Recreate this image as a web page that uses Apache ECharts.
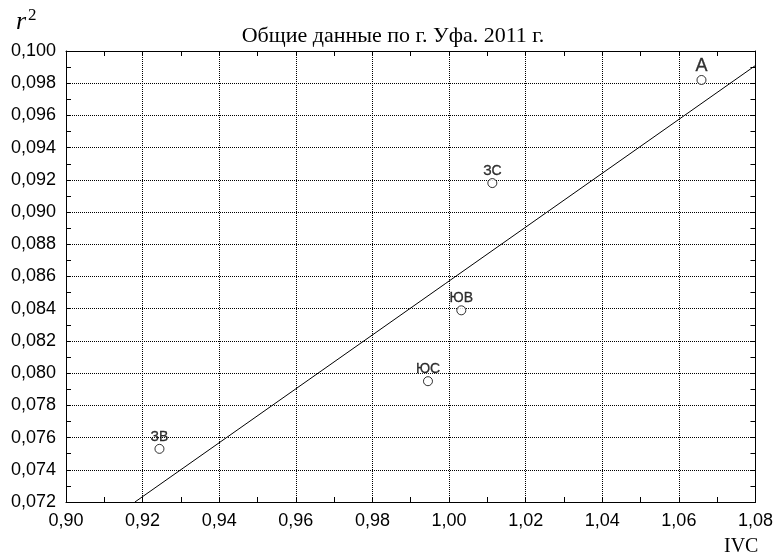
<!DOCTYPE html>
<html>
<head>
<meta charset="utf-8">
<script src="https://cdn.jsdelivr.net/npm/echarts@6/dist/echarts.min.js"></script>
<style>
html, body { margin: 0; padding: 0; background: #fff; }
#chart { width: 776px; height: 557px; }
</style>
</head>
<body>
<div id="chart"></div>
<script>
// точки по районам
const names = ['ЗВ', 'ЮС', 'ЮВ', 'ЗС', 'А']
const ivc = [0.9244, 0.9945, 1.0032, 1.0113, 1.0659]
const r2 = [0.0753, 0.0795, 0.0839, 0.0918, 0.0982]
// линия тренда (концы)
const fitX = [0.918, 1.08]
const fitY = [0.072, 0.0991]

const chart = echarts.init(document.getElementById('chart'))
const black = '#000'
const serif = '"Liberation Serif", "DejaVu Serif", serif'
const sans = '"Liberation Sans", Arial, sans-serif'

const boxAxis = {
  axisLine: { show: true, lineStyle: { color: black, width: 1 } },
  axisTick: { show: true, inside: true, length: 5, lineStyle: { color: black } },
  minorTick: { show: true, splitNumber: 2, length: 5, lineStyle: { color: black } },
  axisLabel: { show: false },
  splitLine: { show: false },
}

const option = {
  backgroundColor: '#fff',
  animation: false,
  title: {
    text: 'Общие данные по г. Уфа. 2011 г.',
    left: 388,
    textAlign: 'center',
    top: 20,
    textStyle: { fontFamily: serif, fontSize: 22, fontWeight: 'normal', color: black },
  },
  graphic: [
    {
      type: 'text', left: 16, top: 9,
      style: { text: 'r', font: 'italic 26px ' + serif, fill: black },
    },
    {
      type: 'text', left: 28, top: 7,
      style: { text: '2', font: '17px ' + serif, fill: black },
    },
    {
      type: 'text', left: 724, top: 537,
      style: { text: 'IVC', font: '20px ' + serif, fill: black },
    },
  ],
  grid: { left: 66, right: 18, top: 51, bottom: 55 },
  xAxis: [
    {
      type: 'value', min: 0.9, max: 1.08, interval: 0.02,
      axisLine: { show: true, lineStyle: { color: black } },
      axisTick: { show: true, inside: true, length: 5, lineStyle: { color: black } },
      minorTick: { show: true, splitNumber: 2, length: 5, lineStyle: { color: black } },
      axisLabel: {
        color: black, fontFamily: sans, fontSize: 18, margin: 10,
        formatter: v => v.toFixed(2).replace('.', ','),
      },
      splitLine: { show: true, lineStyle: { color: black, type: 'dotted', width: 1 } },
    },
    Object.assign({ type: 'value', position: 'top', min: 0.9, max: 1.08, interval: 0.02 }, boxAxis),
  ],
  yAxis: [
    {
      type: 'value', min: 0.072, max: 0.1, interval: 0.002,
      axisLine: { show: true, lineStyle: { color: black } },
      axisTick: { show: true, inside: true, length: 5, lineStyle: { color: black } },
      minorTick: { show: true, splitNumber: 2, length: 5, lineStyle: { color: black } },
      axisLabel: {
        color: black, fontFamily: sans, fontSize: 18, margin: 10,
        formatter: v => v.toFixed(3).replace('.', ','),
      },
      splitLine: { show: true, lineStyle: { color: black, type: 'dotted', width: 1 } },
    },
    Object.assign({ type: 'value', position: 'right', min: 0.072, max: 0.1, interval: 0.002 }, boxAxis),
  ],
  series: [
    {
      type: 'line',
      data: fitX.map((x, i) => [x, fitY[i]]),
      symbol: 'none',
      lineStyle: { color: black, width: 1 },
      z: 3,
    },
    {
      type: 'scatter',
      data: ivc.map((x, i) => ({
        value: [x, r2[i]],
        label: { fontSize: names[i] === 'А' ? 18 : 14 },
      })),
      symbol: 'circle',
      symbolSize: 9,
      itemStyle: { color: '#fff', borderColor: black, borderWidth: 1 },
      label: {
        show: true, position: 'top', distance: 0,
        color: black, fontFamily: sans, fontSize: 14,
        textBorderColor: black, textBorderWidth: 0.3,
        formatter: p => names[p.dataIndex],
      },
      z: 4,
    },
  ],
}
chart.setOption(option)
window.addEventListener('resize', () => {
  chart.resize()
})
</script>
</body>
</html>
